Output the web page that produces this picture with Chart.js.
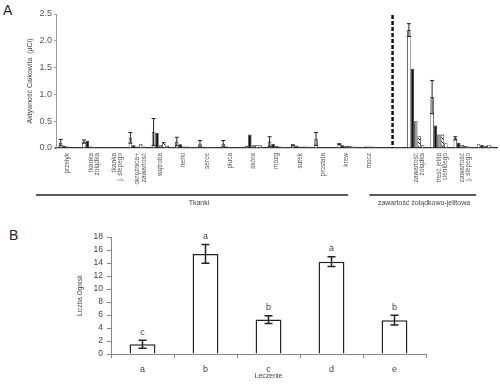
<!DOCTYPE html>
<html>
<head>
<meta charset="utf-8">
<script src="https://cdn.jsdelivr.net/npm/chart.js@4.4.0/dist/chart.umd.min.js"></script>
<style>
  body { margin: 0; background: #fff; width: 500px; height: 385px; position: relative; overflow: hidden; font-family: 'Liberation Sans', Arial, sans-serif; }
  canvas { position: absolute; left: 0; }
  #chartA { top: 0; }
  #chartB { top: 225px; }
  .panel { position: absolute; font-size: 14px; color: #222; line-height: 16px; }
</style>
</head>
<body>
<div class="panel" style="left:3px;top:2px">A</div>
<div class="panel" style="left:9px;top:227px">B</div>
<canvas id="chartA" width="500" height="215"></canvas>
<canvas id="chartB" width="500" height="160"></canvas>
<script>
// Panel A - total activity per tissue
const catsA = [
  'przełyk', ['tkanka', 'żołądka'], ['tkanka', 'j. ślepego'], ['okrężnica+', 'zawartość'],
  'wątroba', 'nerki', 'serce', 'płuca', 'skóra', 'mózg', 'sutek', 'prostata', 'krew', 'mocz',
  '', ['zawartość', 'żołądka'], ['treść jelita', 'cienkiego'], ['zawartość', 'j. ślepego'], ''
];
const whiteVals = [0.10, 0.12, 0.02, 0.19, 0.30, 0.12, 0.08, 0.08, 0.04, 0.12, 0.05, 0.17, 0.07, 0.02, null, 2.20, 0.95, 0.18, 0.07];
const whiteErr  = [0.06, 0.03, 0, 0.10, 0.25, 0.08, 0.06, 0.06, 0, 0.09, 0.01, 0.12, 0.01, 0, null, 0.12, 0.31, 0.03, 0];
const blackVals = [0.04, 0.13, 0.02, 0.05, 0.28, 0.07, 0.02, 0.03, 0.25, 0.08, 0.04, 0.02, 0.05, 0.03, null, 1.48, 0.42, 0.10, 0.06];
const grayVals  = [0.03, 0.03, 0.01, 0.03, 0.05, 0.03, 0.02, 0.02, 0.05, 0.04, 0.03, 0.02, 0.04, 0.03, null, 0.50, 0.25, 0.06, 0.04];
const hatchVals = [0.02, 0.02, 0.02, 0.07, 0.11, 0.03, 0.02, 0.02, 0.05, 0.03, 0.03, 0.02, 0.04, 0.03, null, 0.22, 0.25, 0.04, 0.06];
const openVals  = [0.02, 0.02, 0.01, 0.03, 0.04, 0.02, 0.02, 0.01, 0.05, 0.02, 0.03, 0.01, 0.03, 0.02, null, 0.05, 0.09, 0.03, 0.03];
const ticksA = [0, 0.5, 1.0, 1.5, 2.0, 2.5];

// Panel B - foci count per treatment
const catsB = ['a', 'b', 'c', 'd', 'e'];
const countVals = [1.5, 15.4, 5.3, 14.2, 5.2];
const countErr  = [0.6, 1.45, 0.6, 0.75, 0.75];
const sigLetters = ['c', 'a', 'b', 'a', 'b'];
const ticksB = [0, 2, 4, 6, 8, 10, 12, 14, 16, 18];

const FONT = "'Liberation Sans', Arial, sans-serif";

// diagonal hatch for the fourth series
const makeHatch = () => {
  const c = document.createElement('canvas');
  c.width = 4; c.height = 4;
  const g = c.getContext('2d');
  g.fillStyle = '#fff';
  g.fillRect(0, 0, 4, 4);
  g.strokeStyle = '#111';
  g.lineWidth = 1;
  g.beginPath();
  g.moveTo(0, 0); g.lineTo(4, 4);
  g.stroke();
  return g.createPattern(c, 'repeat');
};

// error bars for datasets that carry an "errors" array
const errorBars = {
  id: 'errorBars',
  afterDatasetsDraw(chart) {
    const ctx = chart.ctx;
    const y = chart.scales.y;
    chart.data.datasets.forEach((ds, di) => {
      if (!ds.errors) return;
      const meta = chart.getDatasetMeta(di);
      ctx.save();
      ctx.strokeStyle = ds.errColor || '#222';
      ctx.lineWidth = ds.errWidth || 1;
      meta.data.forEach((el, i) => {
        const v = ds.data[i], e = ds.errors[i];
        if (v == null || !e) return;
        const top = y.getPixelForValue(v + e);
        const bot = y.getPixelForValue(Math.max(v - e, 0));
        const cap = ds.capHalf || 2;
        ctx.beginPath();
        ctx.moveTo(el.x, top); ctx.lineTo(el.x, bot);
        ctx.moveTo(el.x - cap, top); ctx.lineTo(el.x + cap, top);
        ctx.moveTo(el.x - cap, bot); ctx.lineTo(el.x + cap, bot);
        ctx.stroke();
      });
      ctx.restore();
    });
  }
};

// dashed separator and group brackets in panel A
const groupsA = {
  id: 'groupsA',
  afterDraw(chart) {
    const { ctx, scales: { x, y } } = chart;
    ctx.save();
    const dx = x.getPixelForValue(14);
    ctx.strokeStyle = '#111';
    ctx.lineWidth = 2.5;
    ctx.setLineDash([4, 2]);
    ctx.beginPath();
    ctx.moveTo(dx, y.getPixelForValue(2.48));
    ctx.lineTo(dx, y.bottom);
    ctx.stroke();
    ctx.setLineDash([]);

    ctx.lineWidth = 1.5;
    ctx.strokeStyle = '#222';
    const lineY = 195;
    const s1 = 36, e1 = x.getPixelForValue(12) + 2;
    const s2 = x.getPixelForValue(13), e2 = x.getPixelForValue(17) + 14;
    ctx.beginPath();
    ctx.moveTo(s1, lineY); ctx.lineTo(e1, lineY);
    ctx.moveTo(s2, lineY); ctx.lineTo(e2, lineY);
    ctx.stroke();

    ctx.fillStyle = '#444';
    ctx.font = '7px ' + FONT;
    ctx.textAlign = 'center';
    ctx.textBaseline = 'middle';
    ctx.fillText('Tkanki', 199, 203);
    ctx.fillText('zawartość żołądkowo-jelitowa', 424, 203);
    ctx.restore();
  }
};

// significance letters above bars in panel B
const lettersB = {
  id: 'lettersB',
  afterDatasetsDraw(chart) {
    const { ctx, scales: { y } } = chart;
    const meta = chart.getDatasetMeta(0);
    ctx.save();
    ctx.fillStyle = '#444';
    ctx.font = '9px ' + FONT;
    ctx.textAlign = 'center';
    ctx.textBaseline = 'middle';
    meta.data.forEach((el, i) => {
      ctx.fillText(sigLetters[i], el.x, y.getPixelForValue(countVals[i] + countErr[i]) - 8);
    });
    ctx.restore();
  }
};

const barBase = { borderColor: '#222', borderWidth: 0.8, barPercentage: 1, categoryPercentage: 0.74 };

new Chart(document.getElementById('chartA'), {
  type: 'bar',
  data: {
    labels: catsA,
    datasets: [
      { ...barBase, data: whiteVals, backgroundColor: '#fff', errors: whiteErr, capHalf: 2, errWidth: 1 },
      { ...barBase, data: blackVals, backgroundColor: '#111' },
      { ...barBase, data: grayVals, backgroundColor: '#999' },
      { ...barBase, data: hatchVals, backgroundColor: makeHatch() },
      { ...barBase, data: openVals, backgroundColor: '#fff' }
    ]
  },
  options: {
    responsive: false,
    animation: false,
    layout: { padding: { left: 0, right: 3, top: 14, bottom: 0 } },
    plugins: { legend: { display: false }, tooltip: { enabled: false } },
    scales: {
      x: {
        afterFit: (s) => { s.height = 67; },
        grid: { display: false, drawTicks: false },
        border: { display: true, color: '#333', width: 1.2 },
        ticks: {
          autoSkip: false, minRotation: 90, maxRotation: 90, padding: 5,
          color: '#555', font: { family: FONT, size: 6.5, lineHeight: 1 }
        }
      },
      y: {
        min: 0, max: 2.5,
        afterFit: (s) => { s.width = 56; },
        afterBuildTicks: (s) => { s.ticks = ticksA.map(v => ({ value: v })); },
        grid: { drawOnChartArea: false, tickLength: 2, color: '#999' },
        border: { color: '#999' },
        ticks: {
          autoSkip: false, padding: 2, color: '#555', font: { family: FONT, size: 9 },
          callback: (v) => Number(v).toFixed(1)
        },
        title: {
          display: true, text: 'Aktywność Całkowita  (μCi)', color: '#444',
          font: { family: FONT, size: 7 }, padding: { top: 26, bottom: 0 }
        }
      }
    }
  },
  plugins: [errorBars, groupsA]
});

new Chart(document.getElementById('chartB'), {
  type: 'bar',
  data: {
    labels: catsB,
    datasets: [{
      data: countVals, errors: countErr, capHalf: 4, errWidth: 1.5,
      backgroundColor: '#fff', borderColor: '#222', borderWidth: 1.5,
      barPercentage: 0.41, categoryPercentage: 1
    }]
  },
  options: {
    responsive: false,
    animation: false,
    layout: { padding: { left: 0, right: 74, top: 12, bottom: 0 } },
    plugins: { legend: { display: false }, tooltip: { enabled: false } },
    scales: {
      x: {
        afterFit: (s) => { s.height = 31; },
        grid: { drawOnChartArea: false, tickLength: 4, color: '#888' },
        border: { color: '#888' },
        ticks: { padding: 6, color: '#444', font: { family: FONT, size: 9 } },
        title: {
          display: true, text: 'Leczenie', color: '#444',
          font: { family: FONT, size: 7 }, padding: { top: 0, bottom: 5 }
        }
      },
      y: {
        min: 0, max: 18,
        afterFit: (s) => { s.width = 111; },
        afterBuildTicks: (s) => { s.ticks = ticksB.map(v => ({ value: v })); },
        grid: { drawOnChartArea: false, tickLength: 4, color: '#888' },
        border: { color: '#888' },
        ticks: { autoSkip: false, padding: 4, color: '#444', font: { family: FONT, size: 8.5 } },
        title: {
          display: true, text: 'Liczba Ognisk', color: '#444',
          font: { family: FONT, size: 6.5 }, padding: { top: 76, bottom: 0 }
        }
      }
    }
  },
  plugins: [errorBars, lettersB]
});
</script>
</body>
</html>
